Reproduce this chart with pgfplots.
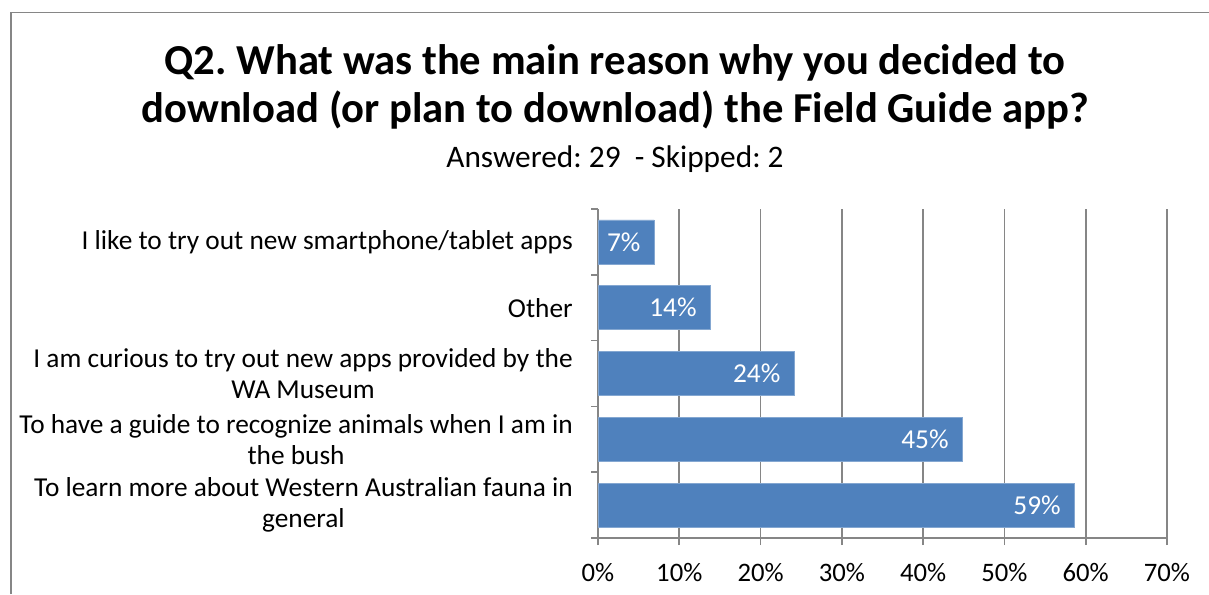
\documentclass[border=0pt]{standalone}
\usepackage{pgfplots}
\pgfplotsset{compat=1.18}
\usepackage{fontspec}
\setmainfont{Carlito}
\frenchspacing
\definecolor{barblue}{RGB}{79,129,189}
\definecolor{axgray}{RGB}{134,134,134}

\begin{document}
\begin{tikzpicture}
% 1 px of the reference = 0.75pt
\path[use as bounding box] (0,0) rectangle (906.75pt,445.5pt);
\draw[axgray, line width=1.2pt] (8.25pt,0) -- (8.25pt,436pt) -- (906.75pt,436pt);

\node[anchor=base, font=\fontsize{32}{38}\selectfont\bfseries] at (461.25pt,389.25pt)
  {Q2. What was the main reason why you decided to};
\node[anchor=base, font=\fontsize{32}{38}\selectfont\bfseries] at (461.25pt,354pt)
  {download (or plan to download) the Field Guide app?};
\node[anchor=base, font=\fontsize{23.5}{28}\selectfont] at (461.25pt,320pt)
  {Answered: 29\ \ - Skipped: 2};

\begin{axis}[
    at={(448.5pt,42pt)}, anchor=south west,
    scale only axis, width=426.75pt, height=246.75pt,
    xbar, bar width=33pt,
    xmin=0, xmax=70, ymin=-0.5, ymax=4.5,
    axis x line*=bottom, axis y line*=left,
    axis line style={axgray, line width=1.2pt},
    tick style={axgray, line width=1.2pt},
    tick align=outside,
    major tick length=5.25pt,
    xtick={0,10,...,70},
    xticklabel={\pgfmathprintnumber[assume math mode=true]{\tick}\%},
    xticklabel style={font=\fontsize{20}{24}\selectfont, yshift=-10pt},
    xmajorgrids,
    grid style={axgray, line width=1.2pt},
    ytick={-0.5,0.5,...,4.5},
    yticklabels={},
    extra y ticks={0,1,2,3,4},
    extra y tick labels={
      To learn more about Western Australian fauna in\\general,
      To have a guide to recognize animals when I am in\\the bush,
      I am curious to try out new apps provided by the\\WA Museum,
      Other,
      I like to try out new smartphone/tablet apps},
    extra y tick style={major tick length=0pt},
    yticklabel style={font=\fontsize{20.5}{23.5}\selectfont, align=center,
      inner sep=0pt, anchor=east, xshift=-18.75pt},
    nodes near coords={\pgfmathprintnumber[fixed,precision=0,assume math mode=true]{\pgfplotspointmeta}\%},
    nodes near coords style={anchor=east, white, inner sep=0pt, xshift=-10pt,
      font=\fontsize{20.5}{24}\selectfont},
]
\addplot[fill=barblue, draw=barblue!70!white] coordinates {
    (58.6,0) (44.8,1) (24.1,2) (13.8,3) (6.9,4)
};
\end{axis}
\end{tikzpicture}
\end{document}
